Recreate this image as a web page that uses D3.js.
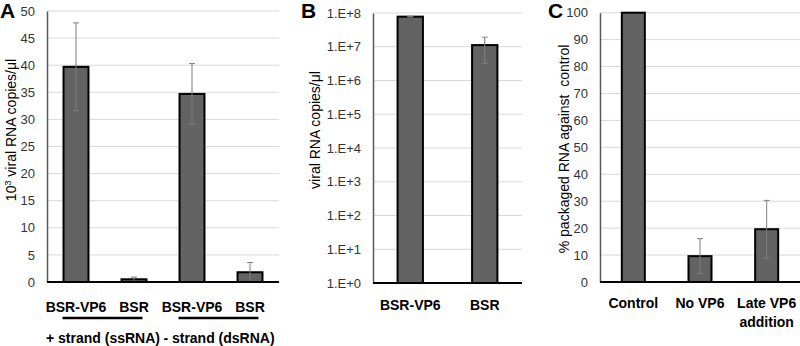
<!DOCTYPE html>
<html><head><meta charset="utf-8">
<script src="https://cdn.jsdelivr.net/npm/d3@7"></script>
<style>
body{margin:0;background:#fff;}
svg{display:block;font-family:"Liberation Sans",Arial,sans-serif;}
</style></head>
<body><svg id="c" width="800" height="346"></svg>
<script>
// Panel A
const catsA = ["BSR-VP6","BSR","BSR-VP6 ","BSR "];
const valsA = [39.7, 0.5, 34.7, 1.8];
const errA  = [8.1, 0.4, 5.6, 1.8];
const ticksA = [0,5,10,15,20,25,30,35,40,45,50];
const groupsA = ["+ strand (ssRNA)", "- strand (dsRNA)"];
// Panel B
const catsB = ["BSR-VP6","BSR"];
const valsB = [7.8e7, 1.12e7];
const errB  = [1.5e6, 8e6];
const ticksB = [1e0,1e1,1e2,1e3,1e4,1e5,1e6,1e7,1e8];
// Panel C
const catsC = ["Control","No VP6","Late VP6|addition"];
const valsC = [100, 9.6, 19.6];
const errC  = [0, 6.5, 10.7];
const ticksC = [0,10,20,30,40,50,60,70,80,90,100];

const svg = d3.select("#c");
const BAR="#636363", GRID="#d9d9d9", ERR="#7f7f7f", TXT="#333333";

function panel(o){
  const g = svg.append("g");
  const x = d3.scaleBand().domain(o.cats).range([o.x0,o.x1]).paddingInner(o.pad).paddingOuter(o.pad/2);
  const y = o.y;
  g.selectAll(".grid").data(o.ticks.slice(1)).join("line")
    .attr("x1",o.x0).attr("x2",o.x1).attr("y1",d=>y(d)).attr("y2",d=>y(d))
    .attr("stroke",GRID).attr("stroke-width",1);
  const ax = g.append("g").attr("transform",`translate(${o.x0},0)`)
    .call(d3.axisLeft(y).tickValues(o.ticks).tickSize(0).tickPadding(12).tickFormat(o.fmt));
  ax.select(".domain").attr("stroke","#595959").attr("stroke-width",1.5);
  ax.selectAll("text").attr("font-size",13).attr("fill",TXT).attr("font-family","Liberation Sans, Arial, sans-serif");
  g.selectAll(".bar").data(o.cats).join("rect")
    .attr("x",d=>x(d)).attr("width",x.bandwidth())
    .attr("y",(d,i)=>y(o.vals[i])).attr("height",(d,i)=>y(o.base)-y(o.vals[i]))
    .attr("fill",BAR).attr("stroke","#000").attr("stroke-width",2);
  o.cats.forEach((c,i)=>{
    if(!o.errs[i]) return;
    const cx = x(c)+x.bandwidth()/2;
    const lo = Math.max(o.vals[i]-o.errs[i], o.base), hi=o.vals[i]+o.errs[i];
    g.append("line").attr("x1",cx).attr("x2",cx).attr("y1",y(lo)).attr("y2",y(hi)).attr("stroke",ERR).attr("stroke-width",1);
    [hi, (o.vals[i]-o.errs[i] > o.base ? lo : null)].forEach(v=>{
      if(v===null) return;
      g.append("line").attr("x1",cx-3).attr("x2",cx+3).attr("y1",y(v)).attr("y2",y(v)).attr("stroke",ERR).attr("stroke-width",1);
    });
  });
  g.append("line").attr("x1",o.x0).attr("x2",o.x1).attr("y1",y(o.base)).attr("y2",y(o.base)).attr("stroke","#000").attr("stroke-width",2);
  o.cats.forEach(c=>{
    const lines = c.trim().split("|");
    const t = g.append("text").attr("x",x(c)+x.bandwidth()/2).attr("y",o.labY)
      .attr("text-anchor","middle").attr("font-size",14).attr("font-weight","bold").attr("fill","#000");
    lines.forEach((l,j)=>t.append("tspan").attr("x",x(c)+x.bandwidth()/2).attr("dy",j?19:0).text(l));
  });
  const tt = g.append("text").attr("transform",`translate(${o.titleX},${o.titleY}) rotate(-90)`)
    .attr("text-anchor","middle").attr("font-size",14).attr("fill","#000");
  o.title(tt);
  g.append("text").attr("x",o.letX).attr("y",18).attr("font-size",21).attr("font-weight","bold").text(o.letter);
  return {g,x,y};
}

const yA = d3.scaleLinear().domain([0,50]).range([282,11]);
const pA = panel({cats:catsA, vals:valsA, errs:errA, ticks:ticksA, x0:47, x1:279, pad:0.57, y:yA, base:0,
  fmt:d3.format("d"), labY:312, titleX:16, titleY:130, letX:0, letter:"A",
  title:t=>{t.append("tspan").text("10");t.append("tspan").attr("baseline-shift","super").attr("font-size",9).text("3");t.append("tspan").text(" viral RNA copies/μl");}});
[[0,1],[2,3]].forEach((pair,k)=>{
  const xa = pA.x(catsA[pair[0]]), xb = pA.x(catsA[pair[1]])+pA.x.bandwidth();
  pA.g.append("line").attr("x1",xa-1).attr("x2",xb-4).attr("y1",318).attr("y2",318).attr("stroke","#000").attr("stroke-width",2.5);
  pA.g.append("text").attr("x",(xa+xb)/2-2).attr("y",343).attr("text-anchor","middle").attr("font-size",14).attr("font-weight","bold").text(groupsA[k]);
});

const yB = d3.scaleLog().domain([1,1e8]).range([283,13]);
panel({cats:catsB, vals:valsB, errs:errB, ticks:ticksB, x0:373, x1:522, pad:0.66, y:yB, base:1,
  fmt:d=>"1.E+"+Math.round(Math.log10(d)), labY:310, titleX:320, titleY:130, letX:301, letter:"B",
  title:t=>t.text("viral RNA copies/μl")});

const yC = d3.scaleLinear().domain([0,100]).range([282,12.7]);
panel({cats:catsC, vals:valsC, errs:errC, ticks:ticksC, x0:600, x1:800, pad:0.655, y:yC, base:0,
  fmt:d3.format("d"), labY:308, titleX:569, titleY:149, letX:548, letter:"C",
  title:t=>t.text("% packaged RNA against\u00a0 control")});
</script></body></html>
